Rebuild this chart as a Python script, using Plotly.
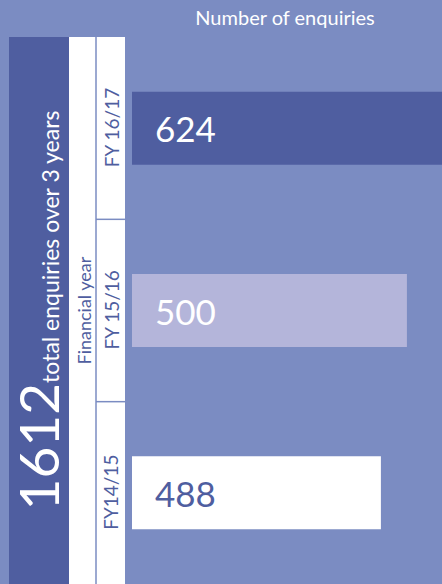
import plotly.graph_objects as go

# ---- data ----
categories = ["FY 16/17", "FY 15/16", "FY14/15"]
enquiries = [624, 500, 488]
total_enquiries = 1612
bar_colors = ["#4F5EA0", "#B4B5DA", "#FFFFFF"]
label_colors = ["#FFFFFF", "#FFFFFF", "#4F5EA0"]

BG = "#7B8CC2"
DARK = "#4F5EA0"
W, H = 442, 584
L, T = 132, 37
PW = W - L


def px(x):
    """pixel x -> paper x"""
    return (x - L) / PW


fig = go.Figure()
fig.add_trace(go.Bar(
    y=categories, x=enquiries, orientation="h",
    marker=dict(color=bar_colors, line=dict(width=0)),
    width=0.4, hoverinfo="skip",
))

shapes = [
    dict(type="rect", xref="paper", yref="paper", x0=px(9), x1=px(69), y0=0, y1=1,
         fillcolor=DARK, line=dict(width=0), layer="above"),
    dict(type="rect", xref="paper", yref="paper", x0=px(69), x1=px(125), y0=0, y1=1,
         fillcolor="white", line=dict(width=0), layer="above"),
    dict(type="line", xref="paper", yref="paper", x0=px(96), x1=px(96), y0=0, y1=1,
         line=dict(color=BG, width=1.5), layer="above"),
]
for b in [0.5, 1.5]:
    shapes.append(dict(type="line", xref="paper", yref="y", x0=px(96), x1=px(125), y0=b, y1=b,
                       line=dict(color=BG, width=1.5), layer="above"))

annotations = []
for i, (c, v) in enumerate(zip(categories, enquiries)):
    annotations.append(dict(xref="paper", yref="y", x=px(111), y=c, text=c, textangle=-90,
                            showarrow=False, xanchor="center", yanchor="middle",
                            font=dict(size=19, color=DARK, family="Lato")))
    annotations.append(dict(xref="paper", yref="y", x=px(153), y=c, text=str(v),
                            showarrow=False, xanchor="left", yanchor="middle",
                            font=dict(size=35, color=label_colors[i], family="Lato")))
annotations.append(dict(xref="paper", yref="paper", x=px(83), y=0.5, text="Financial year",
                        textangle=-90, showarrow=False, xanchor="center", yanchor="middle",
                        font=dict(size=18, color=DARK, family="Lato")))
annotations.append(dict(xref="paper", yref="paper", x=px(37), y=0.5,
                        text=f"<span style='font-size:55px'>{total_enquiries}</span>total enquiries over 3 years",
                        textangle=-90, showarrow=False, xanchor="center", yanchor="middle",
                        font=dict(size=23, color="white", family="Lato")))

fig.update_layout(
    width=W, height=H,
    margin=dict(l=L, r=0, t=T, b=0, pad=0),
    paper_bgcolor=BG, plot_bgcolor=BG,
    showlegend=False,
    title=dict(text="Number of enquiries", x=285 / W, xref="container", xanchor="center",
               y=1 - 18 / H, yref="container", yanchor="middle",
               font=dict(size=20, color="white", family="Lato")),
    xaxis=dict(range=[373.1, 516.2], visible=False, fixedrange=True),
    yaxis=dict(categoryorder="array", categoryarray=categories, range=[2.5, -0.5],
               visible=False, fixedrange=True),
    shapes=shapes, annotations=annotations,
)

fig.write_html("out.html", config={"displayModeBar": False},
               post_script="document.body.style.margin='0';document.body.style.padding='0';")
